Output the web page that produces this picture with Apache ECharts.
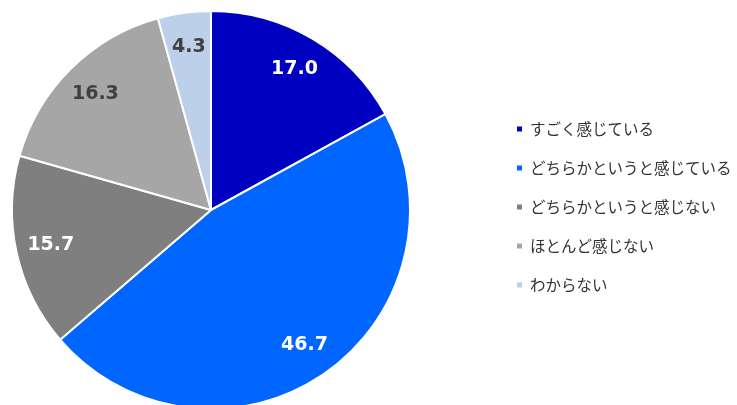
<!DOCTYPE html>
<html><head><meta charset="utf-8">
<script src="https://cdn.jsdelivr.net/npm/echarts@6/dist/echarts.min.js"></script>
<style>html,body{margin:0;padding:0;background:#fff}#c{width:737px;height:405px}</style>
</head><body><div id="c"></div>
<script>
const categories = ['すごく感じている','どちらかというと感じている','どちらかというと感じない','ほとんど感じない','わからない'];
const values = [17.0, 46.7, 15.7, 16.3, 4.3];
const colors = ['#0000c0','#0066ff','#7f7f7f','#a6a6a6','#bdd0e9'];
const labelColors = ['#ffffff','#ffffff','#ffffff','#404040','#404040'];

const chart = echarts.init(document.getElementById('c'));
const data = categories.map((n,i)=>({name:n,value:values[i],itemStyle:{color:colors[i]}}));
const labelData = categories.map((n,i)=>({name:n,value:values[i],label:{color:labelColors[i]}}));
chart.setOption({
  animation:false,
  color: colors,
  legend:{
    orient:'vertical', left:510, top:114,
    itemWidth:7, itemHeight:7, itemGap:19, icon:'rect',
    textStyle:{fontFamily:'"Noto Sans CJK JP"', fontSize:15.5, color:'#333', lineHeight:20, padding:[0,0,0,2]},
    data: categories
  },
  series:[
    {type:'pie', center:[211,210], radius:[0,199], startAngle:90, clockwise:true,
     label:{show:false}, labelLine:{show:false},
     itemStyle:{borderColor:'#fff', borderWidth:2},
     data:data, silent:true},
    {type:'pie', center:[211,210], radius:[123,199], startAngle:90, clockwise:true,
     itemStyle:{color:'rgba(0,0,0,0)'}, silent:true, legendHoverLink:false,
     label:{show:true, position:'inside', fontFamily:'"DejaVu Sans"', fontWeight:'bold', fontSize:19,
       formatter:p=>p.value.toFixed(1)},
     labelLine:{show:false},
     data:labelData}
  ]
});
</script></body></html>
